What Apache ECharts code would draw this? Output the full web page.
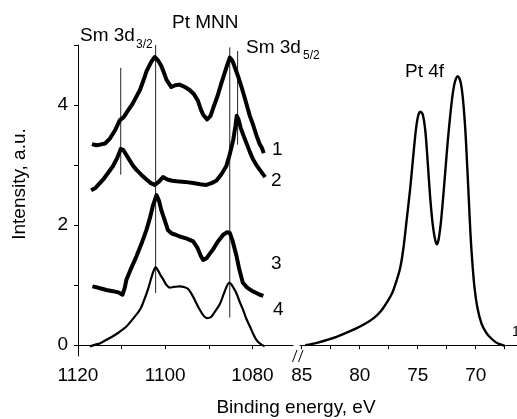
<!DOCTYPE html>
<html>
<head>
<meta charset="utf-8">
<script src="https://cdn.jsdelivr.net/npm/echarts@6/dist/echarts.min.js"></script>
<style>
html, body { margin: 0; padding: 0; background: #fff; }
#main { width: 517px; height: 419px; }
</style>
</head>
<body>
<div id="main"></div>
<script>
// Sm 3d / Pt MNN region, spectra 1-4 (eV, intensity)
var spec1 = [[1116.8,3.35],[1115.8,3.33],[1115.0,3.34],[1113.8,3.36],[1112.7,3.44],[1111.5,3.58],[1110.4,3.75],[1109.5,3.80],[1108.9,3.87],[1107.5,4.02],[1105.8,4.25],[1104.8,4.45],[1104.3,4.56],[1103.2,4.72],[1102.4,4.80],[1101.6,4.74],[1100.9,4.65],[1100.2,4.52],[1099.7,4.42],[1098.6,4.30],[1097.7,4.33],[1096.7,4.34],[1095.5,4.30],[1094.4,4.25],[1093.4,4.18],[1092.5,4.07],[1091.8,3.92],[1091.3,3.84],[1090.4,3.76],[1089.6,3.82],[1089.0,3.95],[1088.0,4.15],[1087.1,4.37],[1086.0,4.62],[1085.2,4.79],[1084.6,4.74],[1084.1,4.64],[1083.3,4.48],[1082.5,4.30],[1081.5,4.05],[1080.6,3.82],[1079.9,3.68],[1079.1,3.50],[1078.4,3.36],[1077.8,3.28],[1077.4,3.20]];
var spec2 = [[1117.0,2.58],[1116.0,2.62],[1115.0,2.70],[1114.0,2.78],[1113.0,2.88],[1112.0,2.98],[1111.0,3.12],[1110.2,3.27],[1109.6,3.25],[1108.5,3.12],[1107.5,3.00],[1106.6,2.92],[1105.5,2.84],[1104.3,2.76],[1103.3,2.70],[1102.4,2.67],[1101.5,2.72],[1100.5,2.80],[1099.5,2.76],[1098.4,2.74],[1097.4,2.73],[1095.5,2.72],[1093.6,2.70],[1092.0,2.68],[1090.6,2.67],[1089.4,2.70],[1088.3,2.74],[1087.2,2.84],[1086.0,2.98],[1085.2,3.18],[1084.4,3.42],[1083.9,3.65],[1083.6,3.82],[1083.2,3.76],[1082.7,3.62],[1082.2,3.52],[1081.4,3.37],[1080.6,3.22],[1079.9,3.10],[1079.1,3.00],[1078.3,2.92],[1077.6,2.85],[1077.1,2.80]];
var spec3 = [[1116.7,0.98],[1115.5,0.96],[1114.5,0.94],[1113.5,0.92],[1112.0,0.90],[1110.8,0.88],[1109.8,0.84],[1109.3,0.95],[1108.9,1.09],[1108.0,1.25],[1107.2,1.38],[1106.6,1.48],[1105.5,1.68],[1104.3,1.92],[1103.5,2.12],[1102.8,2.33],[1102.0,2.50],[1101.4,2.40],[1100.9,2.25],[1100.2,2.10],[1099.4,1.92],[1098.5,1.86],[1097.6,1.84],[1096.7,1.81],[1095.2,1.78],[1093.6,1.73],[1092.6,1.62],[1091.8,1.48],[1091.3,1.42],[1090.5,1.45],[1089.8,1.52],[1089.0,1.60],[1088.0,1.72],[1086.7,1.84],[1085.8,1.88],[1085.2,1.87],[1084.6,1.75],[1083.7,1.50],[1083.0,1.26],[1082.2,1.04],[1081.2,0.96],[1080.0,0.90],[1079.1,0.87],[1078.3,0.84],[1077.5,0.82]];
var spec4 = [[1117.3,-0.02],[1116.0,0.01],[1115.0,0.03],[1113.5,0.09],[1112.0,0.15],[1110.5,0.22],[1108.9,0.31],[1107.5,0.43],[1105.8,0.59],[1105.0,0.72],[1104.0,0.92],[1103.2,1.12],[1102.6,1.25],[1102.2,1.30],[1101.7,1.25],[1101.1,1.17],[1100.5,1.10],[1099.8,1.01],[1099.0,0.96],[1098.0,0.97],[1096.7,0.98],[1095.7,0.97],[1094.8,0.94],[1094.0,0.86],[1093.2,0.75],[1092.3,0.62],[1091.3,0.50],[1090.4,0.45],[1089.5,0.47],[1088.6,0.56],[1087.5,0.68],[1086.6,0.85],[1085.9,0.98],[1085.4,1.04],[1084.9,1.02],[1084.3,0.95],[1083.7,0.87],[1082.8,0.70],[1082.2,0.60],[1081.4,0.44],[1080.5,0.30],[1079.9,0.20],[1079.2,0.10],[1078.5,0.04],[1077.7,0.00],[1077.2,-0.02]];
// Pt 4f region
var pt4f = [[84.7,0.00],[83.7,0.04],[82.0,0.14],[80.3,0.28],[79.5,0.36],[78.8,0.45],[78.2,0.56],[77.7,0.70],[77.2,0.87],[76.8,1.09],[76.5,1.30],[76.25,1.59],[75.95,2.09],[75.66,2.59],[75.4,3.12],[75.15,3.60],[74.95,3.83],[74.75,3.89],[74.55,3.83],[74.35,3.58],[74.2,3.22],[74.05,2.80],[73.9,2.40],[73.7,2.00],[73.5,1.76],[73.35,1.68],[73.2,1.76],[73.0,2.05],[72.8,2.48],[72.6,2.95],[72.4,3.42],[72.2,3.82],[72.0,4.16],[71.8,4.38],[71.55,4.48],[71.3,4.38],[71.1,4.10],[70.9,3.60],[70.75,3.05],[70.6,2.45],[70.45,1.85],[70.3,1.40],[70.1,0.95],[69.85,0.62],[69.5,0.36],[69.1,0.21],[68.7,0.12],[68.2,0.04],[67.5,-0.01]];
// vertical marker lines: [energy, yFrom, yTo]
var markers = [[1110.2,2.84,4.62],[1102.2,0.87,5.0],[1085.2,0.46,4.96],[1083.4,3.34,4.9]];

var leftTicks = [1120,1110,1100,1090,1080];
var leftLabels = [1120,1100,1080];
var rightTicks = [85,82.5,80,77.5,75,72.5,70,67.5];
var rightLabels = [85,80,75,70];
var yTicks = [0,1,2,3,4,5];
var yLabels = [0,2,4];

var FONT = 'Liberation Sans, Arial, sans-serif';
var FS = 19;

var myChart = echarts.init(document.getElementById('main'));

var axisCommon = {
    axisLine: { lineStyle: { color: '#000', width: 1 } },
    splitLine: { show: false },
    axisLabel: { color: '#000', fontSize: FS, fontFamily: FONT, formatter: function (v) { return String(v); } }
};

function lineSeries(data, xi, width, smooth) {
    return {
        type: 'line',
        xAxisIndex: xi,
        yAxisIndex: xi,
        data: data,
        symbol: 'none',
        smooth: smooth,
        lineStyle: { color: '#000', width: width, join: 'round' },
        silent: true,
        animation: false
    };
}

var series = [
    lineSeries(spec1, 0, 4, false),
    lineSeries(spec2, 0, 4, false),
    lineSeries(spec3, 0, 4, false),
    lineSeries(spec4, 0, 2.2, 0.3),
    lineSeries(pt4f, 1, 2.4, 0.3)
];
markers.forEach(function (m) {
    var s = lineSeries([[m[0], m[1]], [m[0], m[2]]], 0, 1, false);
    s.lineStyle.color = '#222';
    s.z = 1;
    series.push(s);
});

var option = {
    backgroundColor: '#fff',
    animation: false,
    grid: [
        { left: 78, top: 45, width: 215, height: 311, outerBoundsMode: 'none' },
        { left: 300, top: 45, width: 217, height: 311, outerBoundsMode: 'none' }
    ],
    xAxis: [
        Object.assign({}, axisCommon, {
            gridIndex: 0, type: 'value', inverse: true, min: 1070.7, max: 1120,
            axisTick: { show: true, length: 4, customValues: leftTicks, lineStyle: { color: '#000' } },
            axisLabel: Object.assign({}, axisCommon.axisLabel, { customValues: leftLabels, margin: 10 })
        }),
        Object.assign({}, axisCommon, {
            gridIndex: 1, type: 'value', inverse: true, min: 66.44, max: 85.15,
            axisTick: { show: true, length: 4, customValues: rightTicks, lineStyle: { color: '#000' } },
            axisLabel: Object.assign({}, axisCommon.axisLabel, { customValues: rightLabels, margin: 10 })
        })
    ],
    yAxis: [
        Object.assign({}, axisCommon, {
            gridIndex: 0, type: 'value', min: -0.18, max: 5,
            axisLine: { show: true, lineStyle: { color: '#000', width: 1 } },
            axisTick: { show: true, length: 4, customValues: yTicks, lineStyle: { color: '#000' } },
            axisLabel: Object.assign({}, axisCommon.axisLabel, { customValues: yLabels, margin: 10 })
        }),
        { gridIndex: 1, type: 'value', min: -0.18, max: 5, show: false }
    ],
    graphic: [
        // axis break marks
        { type: 'line', shape: { x1: 292.5, y1: 362, x2: 297, y2: 350 }, style: { stroke: '#000', lineWidth: 1 } },
        { type: 'line', shape: { x1: 298.5, y1: 362, x2: 303, y2: 350 }, style: { stroke: '#000', lineWidth: 1 } },
        // axis titles
        { type: 'text', x: 296, y: 408, style: { text: 'Binding energy, eV', font: FS + 'px ' + FONT, fill: '#000', align: 'center', verticalAlign: 'middle' } },
        { type: 'text', x: 20, y: 184, rotation: Math.PI / 2, style: { text: 'Intensity, a.u.', font: FS + 'px ' + FONT, fill: '#000', align: 'center', verticalAlign: 'middle' } },
        // peak annotations
        { type: 'text', x: 80, y: 36, style: { text: 'Sm 3d', font: FS + 'px ' + FONT, fill: '#000', align: 'left', verticalAlign: 'middle' } },
        { type: 'text', x: 136, y: 45, style: { text: '3/2', font: '12px ' + FONT, fill: '#000', align: 'left', verticalAlign: 'middle' } },
        { type: 'text', x: 172, y: 23, style: { text: 'Pt MNN', font: FS + 'px ' + FONT, fill: '#000', align: 'left', verticalAlign: 'middle' } },
        { type: 'text', x: 246, y: 47.5, style: { text: 'Sm 3d', font: FS + 'px ' + FONT, fill: '#000', align: 'left', verticalAlign: 'middle' } },
        { type: 'text', x: 303, y: 56, style: { text: '5/2', font: '12px ' + FONT, fill: '#000', align: 'left', verticalAlign: 'middle' } },
        { type: 'text', x: 405, y: 71.5, style: { text: 'Pt 4f', font: FS + 'px ' + FONT, fill: '#000', align: 'left', verticalAlign: 'middle' } },
        // spectrum numbers
        { type: 'text', x: 272, y: 150, style: { text: '1', font: FS + 'px ' + FONT, fill: '#000', align: 'left', verticalAlign: 'middle' } },
        { type: 'text', x: 271, y: 180.5, style: { text: '2', font: FS + 'px ' + FONT, fill: '#000', align: 'left', verticalAlign: 'middle' } },
        { type: 'text', x: 271, y: 263.5, style: { text: '3', font: FS + 'px ' + FONT, fill: '#000', align: 'left', verticalAlign: 'middle' } },
        { type: 'text', x: 273, y: 310, style: { text: '4', font: FS + 'px ' + FONT, fill: '#000', align: 'left', verticalAlign: 'middle' } },
        { type: 'text', x: 512, y: 332, style: { text: '1', font: '14px ' + FONT, fill: '#000', align: 'left', verticalAlign: 'middle' } }
    ],
    series: series
};

myChart.setOption(option);
</script>
</body>
</html>
